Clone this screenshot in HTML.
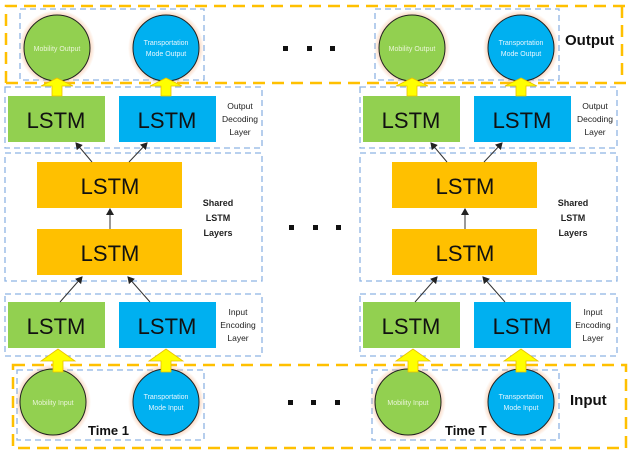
<!DOCTYPE html>
<html><head><meta charset="utf-8"><style>
html,body{margin:0;padding:0;background:#fff}
svg{display:block}
text{font-family:"Liberation Sans",sans-serif}
</style></head><body>
<svg width="632" height="456" viewBox="0 0 632 456" xmlns="http://www.w3.org/2000/svg">
<defs>
<radialGradient id="glow" r="0.5">
<stop offset="0.8" stop-color="#f4b183" stop-opacity="0.75"/>
<stop offset="1" stop-color="#f4b183" stop-opacity="0"/>
</radialGradient>
<marker id="ah" markerWidth="8" markerHeight="8" refX="6" refY="4" orient="auto" markerUnits="userSpaceOnUse">
<path d="M0,0 L7,4 L0,8 z" fill="#222"/>
</marker>
<g id="col">
 <!-- output -->
 <rect x="20" y="9" width="184" height="71" fill="none" stroke="#8eb4e3" stroke-width="1.3" stroke-dasharray="6,4"/>
 <circle cx="57" cy="48" r="38" fill="url(#glow)"/>
 <circle cx="57" cy="48" r="33" fill="#92d050" stroke="#222" stroke-width="1"/>
 <circle cx="166" cy="48" r="38" fill="url(#glow)"/>
 <circle cx="166" cy="48" r="33" fill="#00b0f0" stroke="#222" stroke-width="1"/>
 <text x="57" y="51" font-size="7" fill="#eaf5d8" text-anchor="middle">Mobility Output</text>
 <text x="166" y="45" font-size="7" fill="#e6f6ff" text-anchor="middle">Transportation</text>
 <text x="166" y="56" font-size="7" fill="#e6f6ff" text-anchor="middle">Mode Output</text>
 <!-- output decoding -->
 <rect x="5" y="87" width="257" height="61" fill="none" stroke="#8eb4e3" stroke-width="1.3" stroke-dasharray="6,4"/>
 <rect x="8" y="96" width="97" height="46" fill="#92d050"/>
 <rect x="119" y="96" width="97" height="46" fill="#00b0f0"/>
 <text x="56" y="128" font-size="22" text-anchor="middle" fill="#111">LSTM</text>
 <text x="167" y="128" font-size="22" text-anchor="middle" fill="#111">LSTM</text>
 <text x="240" y="109" font-size="8.5" text-anchor="middle" fill="#222">Output</text>
 <text x="240" y="122" font-size="8.5" text-anchor="middle" fill="#222">Decoding</text>
 <text x="240" y="135" font-size="8.5" text-anchor="middle" fill="#222">Layer</text>
 <path d="M52,96 L52,86 L41,86 L57,78 L73,86 L62,86 L62,96 z" fill="#ffff00" stroke="#e8c000" stroke-width="0.8"/>
 <path d="M161,96 L161,86 L150,86 L166,78 L182,86 L171,86 L171,96 z" fill="#ffff00" stroke="#e8c000" stroke-width="0.8"/>
 <!-- shared -->
 <rect x="5" y="153" width="257" height="128" fill="none" stroke="#8eb4e3" stroke-width="1.3" stroke-dasharray="6,4"/>
 <rect x="37" y="162" width="145" height="46" fill="#ffc000"/>
 <rect x="37" y="229" width="145" height="46" fill="#ffc000"/>
 <text x="110" y="194" font-size="22" text-anchor="middle" fill="#111">LSTM</text>
 <text x="110" y="261" font-size="22" text-anchor="middle" fill="#111">LSTM</text>
 <text x="218" y="206" font-size="9" font-weight="bold" text-anchor="middle" fill="#222">Shared</text>
 <text x="218" y="221" font-size="9" font-weight="bold" text-anchor="middle" fill="#222">LSTM</text>
 <text x="218" y="236" font-size="9" font-weight="bold" text-anchor="middle" fill="#222">Layers</text>
 <line x1="92" y1="162" x2="76" y2="143" stroke="#333" stroke-width="1" marker-end="url(#ah)"/>
 <line x1="129" y1="162" x2="147" y2="143" stroke="#333" stroke-width="1" marker-end="url(#ah)"/>
 <line x1="110" y1="229" x2="110" y2="209" stroke="#333" stroke-width="1" marker-end="url(#ah)"/>
 <!-- input encoding -->
 <rect x="5" y="294" width="257" height="62" fill="none" stroke="#8eb4e3" stroke-width="1.3" stroke-dasharray="6,4"/>
 <rect x="8" y="302" width="97" height="46" fill="#92d050"/>
 <rect x="119" y="302" width="97" height="46" fill="#00b0f0"/>
 <text x="56" y="334" font-size="22" text-anchor="middle" fill="#111">LSTM</text>
 <text x="167" y="334" font-size="22" text-anchor="middle" fill="#111">LSTM</text>
 <text x="238" y="315" font-size="8.5" text-anchor="middle" fill="#222">Input</text>
 <text x="238" y="328" font-size="8.5" text-anchor="middle" fill="#222">Encoding</text>
 <text x="238" y="341" font-size="8.5" text-anchor="middle" fill="#222">Layer</text>
 <line x1="60" y1="302" x2="82" y2="277" stroke="#333" stroke-width="1" marker-end="url(#ah)"/>
 <line x1="150" y1="302" x2="128" y2="277" stroke="#333" stroke-width="1" marker-end="url(#ah)"/>
 <!-- input -->
 <rect x="17" y="370" width="187" height="70" fill="none" stroke="#8eb4e3" stroke-width="1.3" stroke-dasharray="6,4"/>
 <circle cx="53" cy="402" r="38" fill="url(#glow)"/>
 <circle cx="53" cy="402" r="33" fill="#92d050" stroke="#222" stroke-width="1"/>
 <circle cx="166" cy="402" r="38" fill="url(#glow)"/>
 <circle cx="166" cy="402" r="33" fill="#00b0f0" stroke="#222" stroke-width="1"/>
 <text x="53" y="405" font-size="7" fill="#eaf5d8" text-anchor="middle">Mobility Input</text>
 <text x="166" y="399" font-size="7" fill="#e6f6ff" text-anchor="middle">Transportation</text>
 <text x="166" y="410" font-size="7" fill="#e6f6ff" text-anchor="middle">Mode Input</text>
 <path d="M53,372 L53,361 L41,361 L58,349 L75,361 L63,361 L63,372 z" fill="#ffff00" stroke="#e8c000" stroke-width="0.8"/>
 <path d="M161,372 L161,361 L149,361 L166,349 L183,361 L171,361 L171,372 z" fill="#ffff00" stroke="#e8c000" stroke-width="0.8"/>
</g>
</defs>
<!-- orange frames -->
<path d="M6,83 L6,6 L632,6" fill="none" stroke="#ffc000" stroke-width="2.5" stroke-dasharray="12,7"/>
<path d="M6,83 L632,83" fill="none" stroke="#ffc000" stroke-width="2.5" stroke-dasharray="12,7"/>
<line x1="622" y1="6" x2="622" y2="83" stroke="#ffc000" stroke-width="2.5" stroke-dasharray="12,7"/>
<rect x="13" y="365" width="613" height="83" fill="none" stroke="#ffc000" stroke-width="2.5" stroke-dasharray="12,7"/>

<use href="#col"/>
<use href="#col" transform="translate(355,0)"/>

<text x="88" y="435" font-size="13" font-weight="bold" fill="#111">Time 1</text>
<text x="445" y="435" font-size="13" font-weight="bold" fill="#111">Time T</text>
<text x="565" y="45" font-size="15" font-weight="bold" fill="#111">Output</text>
<text x="570" y="405" font-size="15" font-weight="bold" fill="#111">Input</text>

<g fill="#111">
<rect x="283" y="46" width="5" height="5"/><rect x="307" y="46" width="5" height="5"/><rect x="330" y="46" width="5" height="5"/>
<rect x="289" y="225" width="5" height="5"/><rect x="313" y="225" width="5" height="5"/><rect x="336" y="225" width="5" height="5"/>
<rect x="288" y="400" width="5" height="5"/><rect x="311" y="400" width="5" height="5"/><rect x="335" y="400" width="5" height="5"/>
</g>
</svg>
</body></html>
